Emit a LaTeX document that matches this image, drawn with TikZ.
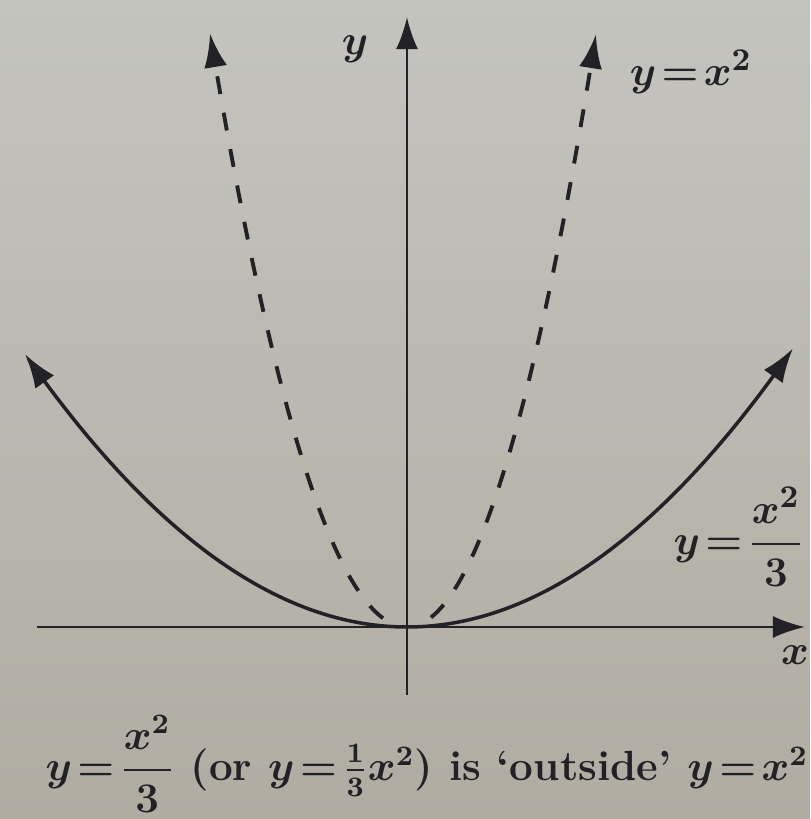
\documentclass[tikz,border=0pt]{standalone}
\usepackage{amsmath}
\usepackage{tikz}
\usetikzlibrary{arrows.meta,positioning}
\definecolor{paper}{RGB}{196,196,190}
\definecolor{paperlow}{RGB}{176,172,162}
\definecolor{ink}{RGB}{34,34,38}
\newcommand{\tightmath}{\thickmuskip=2mu plus 1mu\relax}
\tikzset{
  axis/.style    = {draw=ink, line width=0.8pt, -{Latex[length=3.2mm,width=2.2mm]}},
  curve/.style   = {draw=ink, line width=1pt, smooth, samples=60,
                    {Latex[length=3.4mm,width=2.3mm]}-{Latex[length=3.4mm,width=2.3mm]}},
  dcurve/.style  = {draw=ink, line width=1.1pt, smooth, samples=40,
                    dash pattern=on 1.8mm off 1.9mm, -{Latex[length=3.4mm,width=2.3mm]}},
  lbl/.style     = {text=ink, font=\fontsize{13}{16}\selectfont\bfseries\boldmath\tightmath,
                    inner sep=1pt},
  caplbl/.style  = {lbl, font=\fontsize{12}{15}\selectfont\bfseries\boldmath\tightmath},
}
\begin{document}
\begin{tikzpicture}
% ===== paper =====
\shade[top color=paper, bottom color=paperlow] (-4.07,-1.92) rectangle (4.03,6.27);
\useasboundingbox (-4.07,-1.92) rectangle (4.03,6.27);

% ===== axes =====
\coordinate (O) at (0,0);
\coordinate (xl) at (-3.70,0);
\coordinate (xr) at (3.98,0);
\coordinate (yb) at (0,-0.68);
\coordinate (yt) at (0,6.10);
\draw[axis] (xl) -- (xr);
\draw[axis] (yb) -- (yt);
\node[lbl] (xlab) at (3.88,-0.28) {$x$};
\node[lbl] (ylab) at (-0.52,5.78) {$y$};

% ===== curves =====
\draw[curve] plot[domain=-3.82:3.86] (\x,{0.187*\x*\x});
\draw[dcurve] plot[domain=-0.24:-1.97] (\x,{1.53*\x*\x});
\draw[dcurve] plot[domain=0.24:1.89] (\x,{1.66*\x*\x});

% ===== labels =====
\node[lbl] (sq) at (2.84,5.55) {$y=x^2$};
\node[lbl] (third) at (3.32,0.90) {$y=\dfrac{x^2}{3}$};
\node[caplbl] (caption) at (0.20,-1.37)
     {$y=\dfrac{x^2}{3}$ (or $y=\frac{1}{3}x^2$) is `outside' $y=x^2$};
\end{tikzpicture}
\end{document}
